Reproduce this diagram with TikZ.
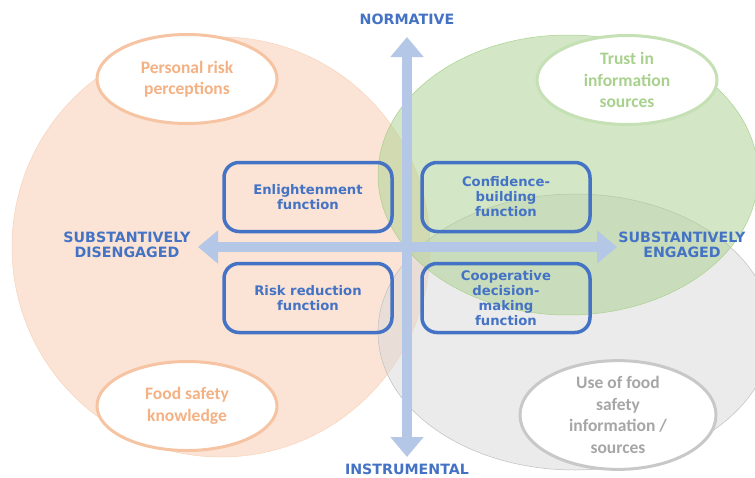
\documentclass[tikz,border=0pt]{standalone}
\usepackage{fontspec}
\newfontfamily\vfont{DejaVu Sans}
\newfontfamily\cfont{Carlito}
\usetikzlibrary{arrows.meta,shapes.geometric}
\definecolor{bblue}{HTML}{4472C4}
\definecolor{axisblue}{HTML}{B4C7E7}
\definecolor{orfill}{HTML}{F8CBAD}
\definecolor{orline}{HTML}{F8D3BA}
\definecolor{ortext}{HTML}{F4B183}
\definecolor{orborder}{HTML}{F6C4A2}
\definecolor{grfill}{HTML}{A9D18E}
\definecolor{grline}{HTML}{A9D18E}
\definecolor{grtext}{HTML}{A9D18E}
\definecolor{grborder}{HTML}{C5E0B4}
\definecolor{gyfill}{HTML}{D9D9D9}
\definecolor{gyline}{HTML}{BFBFBF}
\definecolor{gytext}{HTML}{A6A6A6}
\definecolor{gyborder}{HTML}{C8C8C8}
\begin{document}
\begin{tikzpicture}[x=1pt,y=-1pt,
  bigell/.style={fill opacity=0.5, line width=0.5pt},
  smallell/.style={ellipse, fill=white, line width=3pt, inner sep=0pt,
    minimum width=180pt, minimum height=89pt, align=center,
    font=\cfont\bfseries\fontsize{17.5}{21.5}\selectfont},
  funcbox/.style={draw=bblue, line width=3.5pt, rounded corners=15pt,
    minimum width=168pt, minimum height=69pt, inner sep=0pt, align=center,
    text=bblue, font=\vfont\bfseries\fontsize{13.2}{15}\selectfont},
  axislabel/.style={text=bblue, align=center, inner sep=0pt,
    font=\vfont\bfseries\fontsize{14.2}{15.5}\selectfont},
  axisarrow/.style={draw=axisblue, line width=10pt,
    {Triangle[width=32pt,length=20pt]}-{Triangle[width=32pt,length=20pt]}}
]
\useasboundingbox (0,0) rectangle (755,477);
\fill[white] (0,0) rectangle (755,477);
\begin{scope}
  \clip (0,0) rectangle (755,477);
  \filldraw[bigell, fill=orfill, draw=orline] (221,247) ellipse [x radius=209, y radius=210];
  \filldraw[bigell, fill=gyfill, draw=gyline] (575,332) ellipse [x radius=197, y radius=138];
  \filldraw[bigell, fill=grfill, draw=grline] (568,175) ellipse [x radius=190, y radius=140];
\end{scope}

% small ellipses
\node[smallell, draw=orborder, text=ortext] (prp) at (187,79) {Personal risk\\perceptions};
\node[smallell, draw=orborder, text=ortext] (fsk) at (187,406) {Food safety\\knowledge};
\node[smallell, draw=grborder, text=grtext] (tis) at (627,80) {Trust in\\information\\sources};
\node[smallell, draw=gyborder, text=gytext, minimum width=196pt, minimum height=96pt] (ufs) at (618,415) {Use of food\\safety\\information /\\sources};

% axes
\coordinate (ntop) at (407,37);
\coordinate (nbot) at (407,457);
\coordinate (wleft) at (198,247);
\coordinate (eright) at (617,247);
\draw[axisarrow] (nbot) -- (ntop);
\draw[axisarrow] (wleft) -- (eright);

% function boxes
\node[funcbox] (enl) at (308,197) {Enlightenment\\function};
\node[funcbox] (con) at (506,197) {Confidence-\\building\\function};
\node[funcbox] (rrf) at (308,298) {Risk reduction\\function};
\node[funcbox] (coo) at (506,298) {Cooperative\\decision-\\making\\function};

% axis labels
\node[axislabel] (norm) at (407,19) {NORMATIVE};
\node[axislabel] (instr) at (407,469) {INSTRUMENTAL};
\node[axislabel] (dis) at (127,245) {SUBSTANTIVELY\\DISENGAGED};
\node[axislabel] (eng) at (682,245) {SUBSTANTIVELY\\ENGAGED};
\end{tikzpicture}
\end{document}
